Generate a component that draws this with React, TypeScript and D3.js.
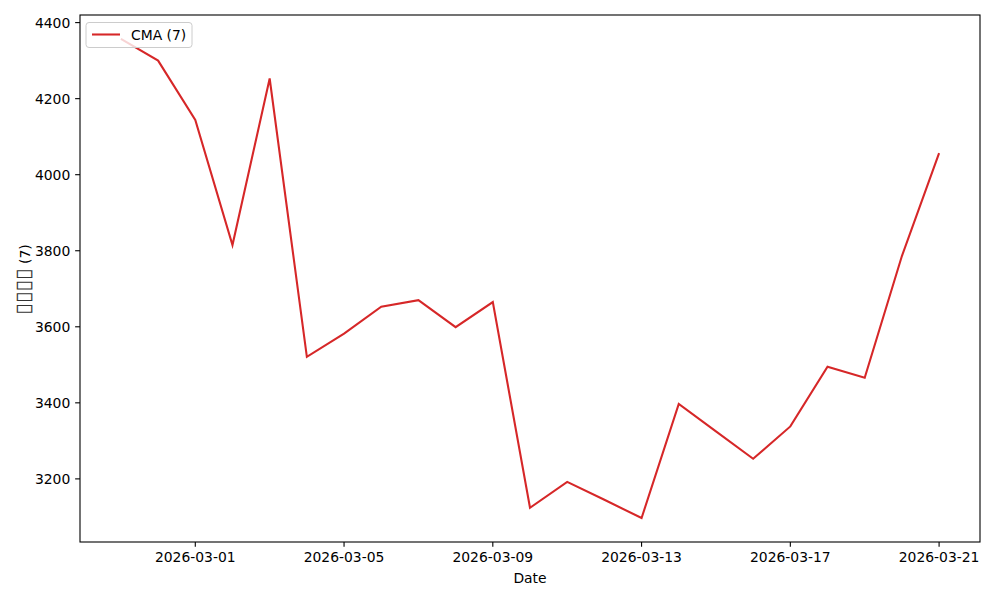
import React from "react";
import * as d3 from "d3";

const dates: string[] = [
  "2026-02-27", "2026-02-28", "2026-03-01", "2026-03-02", "2026-03-03", "2026-03-04",
  "2026-03-05", "2026-03-06", "2026-03-07", "2026-03-08", "2026-03-09", "2026-03-10",
  "2026-03-11", "2026-03-12", "2026-03-13", "2026-03-14", "2026-03-15", "2026-03-16",
  "2026-03-17", "2026-03-18", "2026-03-19", "2026-03-20", "2026-03-21",
];
const cmaValues: number[] = [
  4357, 4300, 4144, 3815, 4253, 3521,
  3582, 3653, 3670, 3599, 3665, 3124,
  3192, 3145, 3097, 3397, 3325, 3253,
  3338, 3495, 3466, 3786, 4057,
];
const xTickLabels: string[] = ["2026-03-01", "2026-03-05", "2026-03-09", "2026-03-13", "2026-03-17", "2026-03-21"];
const yTicks: number[] = [3200, 3400, 3600, 3800, 4000, 4200, 4400];
const seriesName = "CMA (7)";
const yLabelBoxes = "▯▯▯▯";
const yLabelSuffix = " (7)";
const xLabel = "Date";

const W = 1000, H = 600;
const left = 80, right = 980, top = 15, bottom = 542;
const FONT = "DejaVu Sans, sans-serif";
const FS = 13.9;
const RED = "#d62728";

export default function App() {
  const parse = d3.utcParse("%Y-%m-%d");
  const xs = dates.map((d) => parse(d) as Date);
  const x0 = xs[0].getTime(), x1 = xs[xs.length - 1].getTime();
  const xm = (x1 - x0) * 0.05;
  const x = d3.scaleUtc().domain([new Date(x0 - xm), new Date(x1 + xm)]).range([left, right]);
  const ymin = d3.min(cmaValues)!, ymax = d3.max(cmaValues)!;
  const ym = (ymax - ymin) * 0.05;
  const y = d3.scaleLinear().domain([ymin - ym, ymax + ym]).range([bottom, top]);
  const line = d3.line<number>().x((_, i) => x(xs[i])).y((v) => y(v));
  const tick = 4.86;

  return (
    <svg width={W} height={H} style={{ position: "absolute", left: 0, top: 0, background: "#fff" }}>
      <rect x={0} y={0} width={W} height={H} fill="#fff" />
      <defs>
        <clipPath id="clip">
          <rect x={left} y={top} width={right - left} height={bottom - top} />
        </clipPath>
      </defs>
      <path d={line(cmaValues) || ""} fill="none" stroke={RED} strokeWidth={2.08} strokeLinejoin="miter" clipPath="url(#clip)" />
      <rect x={left} y={top} width={right - left} height={bottom - top} fill="none" stroke="#000" strokeWidth={1.1} />
      {xTickLabels.map((t) => {
        const px = x(parse(t) as Date);
        return (
          <g key={t}>
            <line x1={px} x2={px} y1={bottom} y2={bottom + tick} stroke="#000" strokeWidth={1.1} />
            <text x={px} y={bottom + tick + 4.86} dy="0.76em" textAnchor="middle" fontFamily={FONT} fontSize={FS} fill="#000">{t}</text>
          </g>
        );
      })}
      {yTicks.map((v) => {
        const py = y(v);
        return (
          <g key={v}>
            <line x1={left - tick} x2={left} y1={py} y2={py} stroke="#000" strokeWidth={1.1} />
            <text x={left - tick - 4.86} y={py} dy="0.36em" textAnchor="end" fontFamily={FONT} fontSize={FS} fill="#000">{v}</text>
          </g>
        );
      })}
      <text x={(left + right) / 2} y={583} textAnchor="middle" fontFamily={FONT} fontSize={FS} fill="#000">{xLabel}</text>
      <text transform={`translate(30,${(top + bottom) / 2 + 1}) rotate(-90)`} textAnchor="middle" fontFamily={FONT} fontSize={FS} fill="#000">
        <tspan fontSize={21} fill="#333">{yLabelBoxes}</tspan>
        <tspan>{yLabelSuffix}</tspan>
      </text>
      <g>
        <rect x={86} y={22.5} width={106} height={25} rx={3} fill="#fff" fillOpacity={0.8} stroke="#cccccc" strokeWidth={1} />
        <line x1={92} x2={120} y1={34.5} y2={34.5} stroke={RED} strokeWidth={2.08} />
        <text x={131} y={34.5} dy="0.36em" fontFamily={FONT} fontSize={FS} fill="#000">{seriesName}</text>
      </g>
    </svg>
  );
}
